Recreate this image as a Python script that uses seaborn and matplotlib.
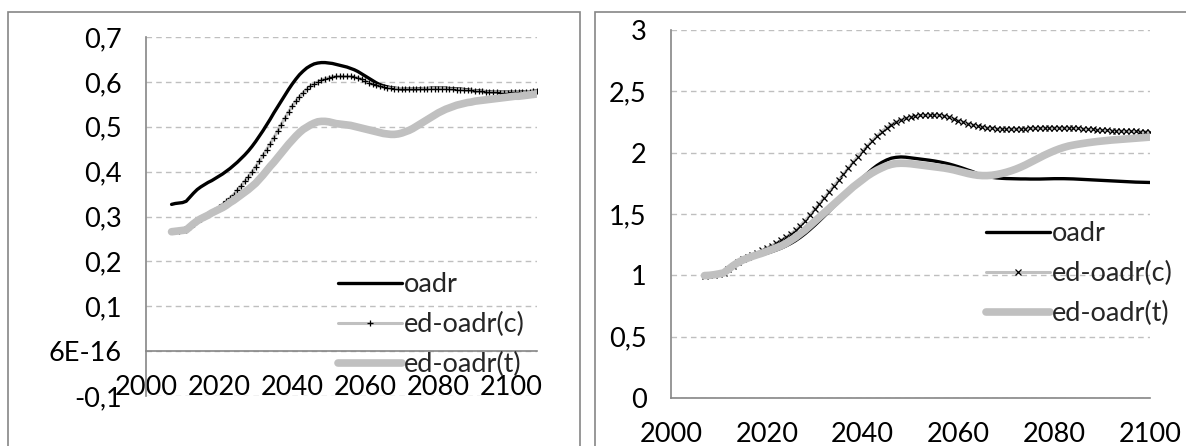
import matplotlib
matplotlib.use("Agg")
import matplotlib.pyplot as plt
import pandas as pd
import seaborn as sns
from matplotlib.patches import Rectangle

# ---------------- data ----------------
years_left = list(range(2007, 2108))
oadr_left = [
    0.327, 0.329, 0.330, 0.331, 0.334, 0.343, 0.352, 0.360, 0.366, 0.371,
    0.376, 0.380, 0.385, 0.390, 0.395, 0.401, 0.407, 0.414, 0.421, 0.429,
    0.437, 0.446, 0.456, 0.467, 0.479, 0.491, 0.504, 0.517, 0.531, 0.544,
    0.557, 0.570, 0.583, 0.595, 0.606, 0.616, 0.624, 0.631, 0.636, 0.640,
    0.642, 0.643, 0.643, 0.642, 0.641, 0.639, 0.637, 0.635, 0.633, 0.630,
    0.627, 0.623, 0.618, 0.613, 0.608, 0.603, 0.598, 0.594, 0.591, 0.589,
    0.587, 0.586, 0.585, 0.584, 0.584, 0.584, 0.584, 0.584, 0.585, 0.585,
    0.585, 0.586, 0.586, 0.586, 0.586, 0.586, 0.585, 0.585, 0.584, 0.584,
    0.583, 0.582, 0.581, 0.580, 0.580, 0.579, 0.578, 0.578, 0.577, 0.577,
    0.577, 0.577, 0.577, 0.577, 0.577, 0.577, 0.578, 0.578, 0.578, 0.579,
    0.580]
edc_left = [
    0.267, 0.268, 0.268, 0.269, 0.270, 0.277, 0.284, 0.290, 0.295, 0.300,
    0.305, 0.310, 0.315, 0.321, 0.327, 0.334, 0.341, 0.349, 0.358, 0.368,
    0.378, 0.388, 0.399, 0.411, 0.423, 0.436, 0.449, 0.462, 0.476, 0.490,
    0.505, 0.519, 0.533, 0.546, 0.557, 0.567, 0.576, 0.584, 0.590, 0.596,
    0.600, 0.604, 0.607, 0.609, 0.611, 0.612, 0.612, 0.612, 0.612, 0.612,
    0.611, 0.609, 0.606, 0.602, 0.598, 0.595, 0.592, 0.590, 0.588, 0.587,
    0.586, 0.585, 0.585, 0.585, 0.584, 0.584, 0.584, 0.584, 0.584, 0.585,
    0.585, 0.585, 0.585, 0.585, 0.585, 0.585, 0.584, 0.584, 0.583, 0.583,
    0.582, 0.581, 0.581, 0.580, 0.579, 0.579, 0.578, 0.577, 0.577, 0.577,
    0.576, 0.576, 0.576, 0.577, 0.577, 0.577, 0.577, 0.578, 0.578, 0.579,
    0.580]
edt_left = [
    0.266, 0.267, 0.268, 0.269, 0.270, 0.277, 0.284, 0.290, 0.295, 0.299,
    0.303, 0.308, 0.312, 0.316, 0.320, 0.325, 0.331, 0.336, 0.342, 0.348,
    0.354, 0.360, 0.367, 0.374, 0.383, 0.392, 0.402, 0.412, 0.421, 0.431,
    0.441, 0.451, 0.461, 0.470, 0.479, 0.487, 0.494, 0.499, 0.504, 0.508,
    0.511, 0.512, 0.512, 0.511, 0.509, 0.507, 0.506, 0.505, 0.504, 0.503,
    0.501, 0.499, 0.497, 0.495, 0.493, 0.491, 0.489, 0.487, 0.485, 0.484,
    0.483, 0.483, 0.484, 0.486, 0.489, 0.492, 0.496, 0.501, 0.506, 0.511,
    0.516, 0.521, 0.526, 0.531, 0.535, 0.539, 0.542, 0.545, 0.548, 0.550,
    0.552, 0.554, 0.555, 0.557, 0.558, 0.559, 0.560, 0.561, 0.562, 0.563,
    0.564, 0.565, 0.566, 0.567, 0.568, 0.568, 0.569, 0.570, 0.571, 0.572,
    0.573]

years_right = list(range(2007, 2101))
oadr_right = [
    0.998, 1.000, 1.005, 1.012, 1.020, 1.048, 1.076, 1.100, 1.118, 1.133,
    1.147, 1.160, 1.170, 1.180, 1.193, 1.207, 1.222, 1.240, 1.260, 1.283,
    1.310, 1.340, 1.373, 1.408, 1.445, 1.483, 1.522, 1.562, 1.600, 1.640,
    1.680, 1.720, 1.760, 1.795, 1.830, 1.865, 1.895, 1.920, 1.940, 1.955,
    1.962, 1.965, 1.963, 1.958, 1.953, 1.948, 1.943, 1.938, 1.932, 1.925,
    1.917, 1.908, 1.897, 1.885, 1.872, 1.858, 1.845, 1.828, 1.816, 1.806,
    1.799, 1.794, 1.791, 1.789, 1.788, 1.787, 1.786, 1.786, 1.785, 1.785,
    1.785, 1.786, 1.787, 1.788, 1.788, 1.788, 1.787, 1.786, 1.784, 1.782,
    1.780, 1.778, 1.776, 1.774, 1.772, 1.770, 1.768, 1.766, 1.764, 1.762,
    1.760, 1.759, 1.758, 1.757]
edc_right = [
    0.998, 1.000, 1.005, 1.012, 1.020, 1.050, 1.080, 1.108, 1.130, 1.150,
    1.168, 1.185, 1.203, 1.222, 1.242, 1.263, 1.285, 1.310, 1.337, 1.367,
    1.405, 1.445, 1.490, 1.537, 1.585, 1.633, 1.680, 1.728, 1.776, 1.824,
    1.872, 1.920, 1.967, 2.012, 2.055, 2.097, 2.137, 2.172, 2.203, 2.229,
    2.250, 2.267, 2.280, 2.290, 2.297, 2.303, 2.306, 2.307, 2.307, 2.305,
    2.300, 2.290, 2.276, 2.262, 2.249, 2.237, 2.226, 2.217, 2.210, 2.204,
    2.200, 2.197, 2.195, 2.194, 2.194, 2.195, 2.196, 2.197, 2.198, 2.199,
    2.200, 2.201, 2.202, 2.203, 2.203, 2.203, 2.202, 2.200, 2.198, 2.195,
    2.192, 2.189, 2.186, 2.183, 2.181, 2.179, 2.177, 2.176, 2.175, 2.174,
    2.173, 2.172, 2.171, 2.170]
edt_right = [
    0.998, 1.000, 1.005, 1.012, 1.020, 1.050, 1.080, 1.105, 1.125, 1.140,
    1.155, 1.168, 1.180, 1.195, 1.210, 1.225, 1.240, 1.260, 1.285, 1.310,
    1.340, 1.370, 1.405, 1.440, 1.475, 1.510, 1.545, 1.580, 1.615, 1.650,
    1.685, 1.720, 1.750, 1.780, 1.810, 1.835, 1.857, 1.876, 1.893, 1.905,
    1.912, 1.914, 1.913, 1.910, 1.905, 1.900, 1.895, 1.890, 1.885, 1.880,
    1.875, 1.868, 1.860, 1.850, 1.840, 1.830, 1.822, 1.816, 1.813, 1.813,
    1.816, 1.822, 1.830, 1.840, 1.852, 1.866, 1.882, 1.900, 1.920, 1.940,
    1.960, 1.980, 1.998, 2.015, 2.030, 2.043, 2.054, 2.062, 2.069, 2.075,
    2.081, 2.086, 2.091, 2.095, 2.099, 2.103, 2.106, 2.109, 2.112, 2.115,
    2.118, 2.121, 2.124, 2.127]

series_labels = ["oadr", "ed-oadr(c)", "ed-oadr(t)"]
x_ticks = [2000, 2020, 2040, 2060, 2080, 2100]
x_ticklabels = ["2000", "2020", "2040", "2060", "2080", "2100"]
left_yticks = [-0.1, 0.0, 0.1, 0.2, 0.3, 0.4, 0.5, 0.6, 0.7]
left_yticklabels = ["-0,1", "6E-16", "0,1", "0,2", "0,3", "0,4", "0,5", "0,6", "0,7"]
right_yticks = [0, 0.5, 1, 1.5, 2, 2.5, 3]
right_yticklabels = ["0", "0,5", "1", "1,5", "2", "2,5", "3"]

# ---------------- style ----------------
sns.set_style("white")
plt.rcParams["font.family"] = ["Lato", "DejaVu Sans"]
FS = 19.5
AXC = "#868686"
GRID = "#BFBFBF"
LGREY = "#C0C0C0"

W, H = 1186, 446
fig = plt.figure(figsize=(W / 100, H / 100), dpi=100)

# panel frames
fig.patches.append(Rectangle((8 / W, -0.05), (580 - 8) / W, (H - 12) / H + 0.05,
                             transform=fig.transFigure, fill=False,
                             edgecolor=AXC, lw=1.2))
fig.patches.append(Rectangle((595 / W, -0.05), (W + 10 - 595) / W, (H - 12) / H + 0.05,
                             transform=fig.transFigure, fill=False,
                             edgecolor=AXC, lw=1.2))


def px_axes(l, r, t, b):
    return fig.add_axes([l / W, (H - b) / H, (r - l) / W, (b - t) / H])


ax1 = px_axes(146, 537, 37, 396)
ax2 = px_axes(671, 1150, 30, 398)


def draw(ax, years, o, c, t, cmarker):
    df = pd.DataFrame({"year": years, "o": o, "c": c, "t": t})
    sns.lineplot(data=df, x="year", y="o", ax=ax, color="black", lw=2.4,
                 label=series_labels[0], solid_capstyle="round")
    sns.lineplot(data=df, x="year", y="c", ax=ax, color=LGREY, lw=2.2,
                 marker=cmarker, markersize=4.4, markeredgecolor="black",
                 markerfacecolor="black", markeredgewidth=0.9,
                 label=series_labels[1])
    sns.lineplot(data=df, x="year", y="t", ax=ax, color=LGREY, lw=5.5,
                 label=series_labels[2], solid_capstyle="round")
    ax.set_xlabel("")
    ax.set_ylabel("")
    ax.set_axisbelow(True)
    ax.yaxis.grid(True, color=GRID, linestyle=(0, (4, 3)), lw=1.0)
    ax.xaxis.grid(False)
    for s in ["top", "right"]:
        ax.spines[s].set_visible(False)
    for s in ["left", "bottom"]:
        ax.spines[s].set_color(AXC)
        ax.spines[s].set_linewidth(1.2)
    ax.set_xticks(x_ticks)
    ax.set_xticklabels(x_ticklabels, fontsize=FS)
    ax.tick_params(axis="x", direction="out", length=4.5, width=1.1,
                   color=AXC, pad=12.5, labelsize=FS)
    ax.tick_params(axis="y", direction="out", length=6.5, width=1.1,
                   color=AXC, pad=11, labelsize=FS)


draw(ax1, years_left, oadr_left, edc_left, edt_left, "+")
ax1.set_xlim(2000, 2107)
ax1.set_ylim(-0.1, 0.7)
ax1.set_yticks(left_yticks)
ax1.set_yticklabels(left_yticklabels)
ax1.spines["bottom"].set_position(("data", 0))

draw(ax2, years_right, oadr_right, edc_right, edt_right, "x")
ax2.set_xlim(2000, 2100)
ax2.set_ylim(0, 3)
ax2.set_yticks(right_yticks)
ax2.set_yticklabels(right_yticklabels)

for ax in (ax1, ax2):
    for lab in ax.get_xticklabels() + ax.get_yticklabels():
        lab.set_color("black")

leg_kw = dict(frameon=False, fontsize=FS, borderpad=0, handlelength=2.35,
              handletextpad=0.1, labelspacing=0.55, numpoints=1,
              loc="upper left", bbox_transform=fig.transFigure,
              borderaxespad=0)
ax1.legend(bbox_to_anchor=(338 / W, (H - 272) / H), **leg_kw)
ax2.legend(bbox_to_anchor=(986 / W, (H - 221) / H), **leg_kw)

fig.savefig("out.png", dpi=100)
